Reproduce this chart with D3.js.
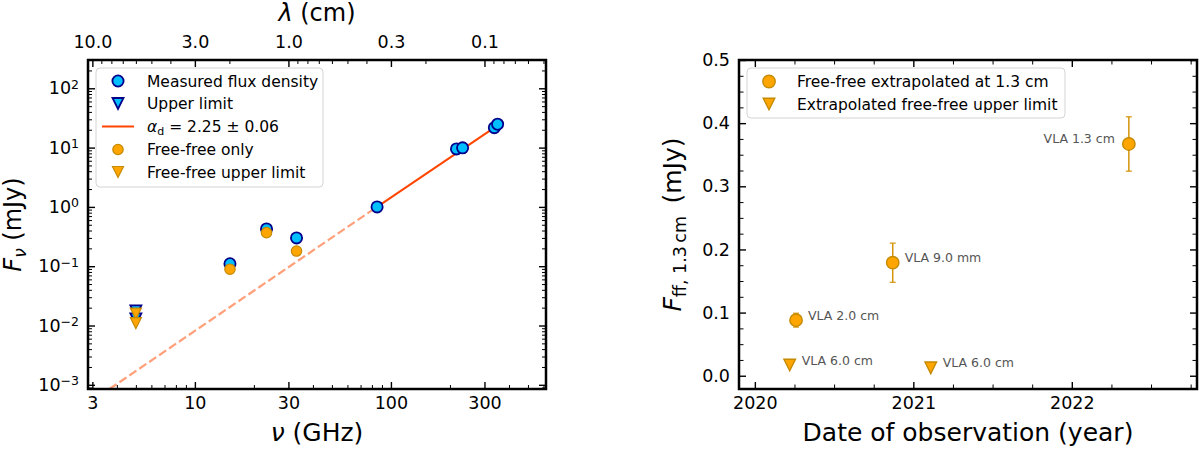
<!DOCTYPE html>
<html>
<head>
<meta charset="utf-8">
<script src="https://cdn.jsdelivr.net/npm/d3@7"></script>
<style>
  body { margin: 0; background: #fff; }
  svg text { font-family: "DejaVu Sans", sans-serif; fill: #000; }
</style>
</head>
<body>
<svg id="chart" width="1200" height="451"></svg>
<script>
// ---- left panel: spectrum ----
const measuredNu = [15.1, 23.2, 33.0, 85, 216, 232, 337, 350];
const measuredFlux = [0.11, 0.425, 0.30, 1.0, 9.5, 9.9, 21.7, 24.8];
const upperNu = [5.0, 5.0];
const upperFlux = [0.0176, 0.0129];
const freeNu = [15.1, 23.2, 33.0];
const freeFlux = [0.089, 0.368, 0.18];
const freeUpperNu = [5.0, 5.0];
const freeUpperFlux = [0.0159, 0.011];
// fit line vertices: dashed part = first two, solid part = last two
const fitNu = [3.67, 85, 340];
const fitFlux = [0.00085, 1.0, 22.2];

const nuMajor = [3, 10, 30, 100, 300];
const nuMinor = [4, 5, 6, 7, 8, 9, 20, 40, 50, 60, 70, 80, 90, 200, 400, 500, 600];
const lamMajor = [10, 3, 1, 0.3, 0.1];
const lamLabels = ['10.0', '3.0', '1.0', '0.3', '0.1'];
const lamMinor = [9, 8, 7, 6, 5, 4, 2, 0.9, 0.8, 0.7, 0.6, 0.5, 0.4, 0.2, 0.09, 0.08, 0.07, 0.06, 0.05];
const fluxMajor = [1e-3, 1e-2, 1e-1, 1, 10, 100];
const fluxExp = ['\u22123', '\u22122', '\u22121', '0', '1', '2'];

// ---- right panel: free-free at 1.3 cm vs date ----
const ffDate = [2020.26, 2020.87, 2022.36];
const ffFlux = [0.088, 0.179, 0.367];
const ffErr = [0.011, 0.031, 0.043];
const ffLabel = ['VLA 2.0 cm', 'VLA 9.0 mm', 'VLA 1.3 cm'];
const ulDate = [2020.22, 2021.11];
const ulFlux = [0.017, 0.0126];
const ulLabel = ['VLA 6.0 cm', 'VLA 6.0 cm'];
const yearMajor = [2020, 2021, 2022];
const ffMajor = [0, 0.1, 0.2, 0.3, 0.4, 0.5];

const BLUE = '#00bfff', BLUE_EDGE = '#00008b';
const ORANGE = '#ffa500', ORANGE_EDGE = '#c48a00';
const FIT = '#ff4500', FIT_DASH = '#ffa07a';
const ERR = '#d4940a';

const svg = d3.select('#chart');

const L = { x0: 88, x1: 546, y0: 60, y1: 389 };
const R = { x0: 739, x1: 1197, y0: 60, y1: 389 };

const xNu = d3.scaleLog().domain([2.85, 618]).range([L.x0, L.x1]);
const xLam = d3.scaleLog().domain([30 / 2.85, 30 / 618]).range([L.x0, L.x1]);
const yF = d3.scaleLog().domain([8.5e-4, 300]).range([L.y1, L.y0]);

const xDate = d3.scaleLinear().domain([2019.9, 2022.79]).range([R.x0, R.x1]);
const yFF = d3.scaleLinear().domain([-0.021, 0.5]).range([R.y1, R.y0]);

const fluxMinor = [];
for (let k = -4; k <= 2; k++) {
  for (let m = 2; m <= 9; m++) {
    const v = m * Math.pow(10, k);
    if (v >= 8.5e-4 && v <= 300) fluxMinor.push(v);
  }
}
const yearMinor = d3.range(2020, 2022.8, 0.25).filter(v => !yearMajor.includes(v));
const ffMinor = d3.range(0, 0.5, 0.025).filter((v, i) => i % 4 !== 0);

const tri = s => `M${-s},${-s}L${s},${-s}L0,${s}Z`;

// draw an axis with inward ticks, no domain line
const addAxis = (g, gen, pos, values, size, pad, fmt, width) => {
  const a = g.append('g')
    .attr('transform', pos)
    .call(gen.tickValues(values).tickSize(-size).tickPadding(pad).tickFormat(fmt));
  a.select('.domain').remove();
  a.selectAll('.tick line').attr('stroke', '#000').attr('stroke-width', width);
  a.selectAll('.tick text').attr('font-size', '17.5px').attr('font-family', 'DejaVu Sans').attr('fill', '#000');
  a.attr('font-family', null).attr('font-size', null);
  return a;
};

// ================= LEFT PANEL =================
const gL = svg.append('g');
svg.append('clipPath').attr('id', 'clipL')
  .append('rect').attr('x', L.x0).attr('y', L.y0).attr('width', L.x1 - L.x0).attr('height', L.y1 - L.y0);

const line = d3.line().x(d => xNu(d[0])).y(d => yF(d[1]));
const fitPts = fitNu.map((v, i) => [v, fitFlux[i]]);
gL.append('path').attr('clip-path', 'url(#clipL)')
  .attr('d', line(fitPts.slice(0, 2)))
  .attr('fill', 'none').attr('stroke', FIT_DASH).attr('stroke-width', 2.2)
  .attr('stroke-dasharray', '8.5,3.5');
gL.append('path')
  .attr('d', line(fitPts.slice(1, 3)))
  .attr('fill', 'none').attr('stroke', FIT).attr('stroke-width', 2);

gL.selectAll('.meas').data(measuredNu).enter().append('circle')
  .attr('cx', d => xNu(d)).attr('cy', (d, i) => yF(measuredFlux[i]))
  .attr('r', 5.6).attr('fill', BLUE).attr('stroke', BLUE_EDGE).attr('stroke-width', 1.8);
gL.selectAll('.ul').data(upperNu).enter().append('path')
  .attr('d', tri(5.5))
  .attr('transform', (d, i) => `translate(${xNu(d)},${yF(upperFlux[i])})`)
  .attr('fill', BLUE).attr('stroke', BLUE_EDGE).attr('stroke-width', 1.8);
gL.selectAll('.ff').data(freeNu).enter().append('circle')
  .attr('cx', d => xNu(d)).attr('cy', (d, i) => yF(freeFlux[i]))
  .attr('r', 5.2).attr('fill', ORANGE).attr('stroke', ORANGE_EDGE).attr('stroke-width', 1.2);
gL.selectAll('.ffu').data(freeUpperNu).enter().append('path')
  .attr('d', tri(5.5))
  .attr('transform', (d, i) => `translate(${xNu(d)},${yF(freeUpperFlux[i])})`)
  .attr('fill', ORANGE).attr('stroke', ORANGE_EDGE).attr('stroke-width', 1.2);

// axes
addAxis(gL, d3.axisBottom(xNu), `translate(0,${L.y1})`, nuMajor, 7, 8, d3.format('d'), 1.4);
addAxis(gL, d3.axisBottom(xNu), `translate(0,${L.y1})`, nuMinor, 4, 8, () => '', 1);
addAxis(gL, d3.axisTop(xLam), `translate(0,${L.y0})`, lamMajor, 7, 12, (d, i) => lamLabels[i], 1.4);
addAxis(gL, d3.axisTop(xLam), `translate(0,${L.y0})`, lamMinor, 4, 12, () => '', 1);
const yAxL = addAxis(gL, d3.axisLeft(yF), `translate(${L.x0},0)`, fluxMajor, 7, 9, () => '', 1.4);
yAxL.selectAll('.tick text').each(function (d, i) {
  const t = d3.select(this);
  t.append('tspan').text('10');
  t.append('tspan').attr('dy', '-0.45em').attr('font-size', '12.5px').text(fluxExp[i]);
});
addAxis(gL, d3.axisLeft(yF), `translate(${L.x0},0)`, fluxMinor, 4, 9, () => '', 1);
addAxis(gL, d3.axisRight(yF), `translate(${L.x1},0)`, fluxMajor, 7, 9, () => '', 1.4);
addAxis(gL, d3.axisRight(yF), `translate(${L.x1},0)`, fluxMinor, 4, 9, () => '', 1);

gL.append('rect').attr('x', L.x0).attr('y', L.y0)
  .attr('width', L.x1 - L.x0).attr('height', L.y1 - L.y0)
  .attr('fill', 'none').attr('stroke', '#000').attr('stroke-width', 2.5);

// axis labels
const nuLab = gL.append('text').attr('x', (L.x0 + L.x1) / 2).attr('y', 441)
  .attr('text-anchor', 'middle').attr('font-size', '25px');
nuLab.append('tspan').attr('font-style', 'italic').text('\u03bd');
nuLab.append('tspan').text(' (GHz)');

const lamLab = gL.append('text').attr('x', (L.x0 + L.x1) / 2).attr('y', 21)
  .attr('text-anchor', 'middle').attr('font-size', '24px');
lamLab.append('tspan').attr('font-style', 'italic').text('\u03bb');
lamLab.append('tspan').text(' (cm)');

const fLab = gL.append('text')
  .attr('transform', `translate(21,${(L.y0 + L.y1) / 2}) rotate(-90)`)
  .attr('text-anchor', 'middle').attr('font-size', '24px');
fLab.append('tspan').attr('font-style', 'italic').text('F');
fLab.append('tspan').attr('font-style', 'italic').attr('font-size', '17px').attr('dy', '5').text('\u03bd');
fLab.append('tspan').attr('dy', '-5').text(' (mJy)');

// legend
const legL = gL.append('g');
legL.append('rect').attr('x', 96).attr('y', 68).attr('width', 227).attr('height', 119)
  .attr('rx', 4).attr('fill', '#fff').attr('fill-opacity', 0.8)
  .attr('stroke', '#d4d4d4').attr('stroke-width', 1);
const legRows = [81, 103.5, 126.5, 149.5, 172];
legL.append('circle').attr('cx', 118).attr('cy', legRows[0]).attr('r', 5.6)
  .attr('fill', BLUE).attr('stroke', BLUE_EDGE).attr('stroke-width', 1.8);
legL.append('path').attr('d', tri(5.5)).attr('transform', `translate(118,${legRows[1]})`)
  .attr('fill', BLUE).attr('stroke', BLUE_EDGE).attr('stroke-width', 1.8);
legL.append('line').attr('x1', 102).attr('x2', 134).attr('y1', legRows[2]).attr('y2', legRows[2])
  .attr('stroke', FIT).attr('stroke-width', 2);
legL.append('circle').attr('cx', 118).attr('cy', legRows[3]).attr('r', 5.2)
  .attr('fill', ORANGE).attr('stroke', ORANGE_EDGE).attr('stroke-width', 1.2);
legL.append('path').attr('d', tri(5.5)).attr('transform', `translate(118,${legRows[4]})`)
  .attr('fill', ORANGE).attr('stroke', ORANGE_EDGE).attr('stroke-width', 1.2);
const legTexts = ['Measured flux density', 'Upper limit', null, 'Free-free only', 'Free-free upper limit'];
legTexts.forEach((s, i) => {
  const t = legL.append('text').attr('x', 147).attr('y', legRows[i] + 5.5).attr('font-size', '15.5px');
  if (s) {
    t.text(s);
  } else {
    t.append('tspan').attr('font-style', 'italic').text('\u03b1');
    t.append('tspan').attr('font-size', '11px').attr('dy', '3').text('d');
    t.append('tspan').attr('dy', '-3').text(' = 2.25 \u00b1 0.06');
  }
});

// ================= RIGHT PANEL =================
const gR = svg.append('g');

// error bars
ffDate.forEach((d, i) => {
  const x = xDate(d);
  const y0 = yFF(ffFlux[i] - ffErr[i]), y1 = yFF(ffFlux[i] + ffErr[i]);
  gR.append('line').attr('x1', x).attr('x2', x).attr('y1', y0).attr('y2', y1)
    .attr('stroke', ERR).attr('stroke-width', 1.5);
  [y0, y1].forEach(yy => gR.append('line').attr('x1', x - 3).attr('x2', x + 3)
    .attr('y1', yy).attr('y2', yy).attr('stroke', ERR).attr('stroke-width', 1.2));
});
gR.selectAll('.ffc').data(ffDate).enter().append('circle')
  .attr('cx', d => xDate(d)).attr('cy', (d, i) => yFF(ffFlux[i]))
  .attr('r', 6.2).attr('fill', ORANGE).attr('stroke', ORANGE_EDGE).attr('stroke-width', 1.4);
gR.selectAll('.ult').data(ulDate).enter().append('path')
  .attr('d', tri(5.8))
  .attr('transform', (d, i) => `translate(${xDate(d)},${yFF(ulFlux[i])})`)
  .attr('fill', ORANGE).attr('stroke', ORANGE_EDGE).attr('stroke-width', 1.4);

// annotations
ffDate.forEach((d, i) => {
  const right = i === 2;
  gR.append('text')
    .attr('x', xDate(d) + (right ? -14 : 12))
    .attr('y', yFF(ffFlux[i]) - 0.5)
    .attr('text-anchor', right ? 'end' : 'start')
    .attr('font-size', '12.5px').style('fill', '#555')
    .text(ffLabel[i]);
});
ulDate.forEach((d, i) => {
  gR.append('text')
    .attr('x', xDate(d) + 12)
    .attr('y', yFF(ulFlux[i]) - 0.5)
    .attr('font-size', '12.5px').style('fill', '#555')
    .text(ulLabel[i]);
});

addAxis(gR, d3.axisBottom(xDate), `translate(0,${R.y1})`, yearMajor, 7, 8, d3.format('d'), 1.4);
addAxis(gR, d3.axisBottom(xDate), `translate(0,${R.y1})`, yearMinor, 4.5, 8, () => '', 1);
addAxis(gR, d3.axisTop(xDate), `translate(0,${R.y0})`, yearMajor, 7, 8, () => '', 1.4);
addAxis(gR, d3.axisTop(xDate), `translate(0,${R.y0})`, yearMinor, 4.5, 8, () => '', 1);
addAxis(gR, d3.axisLeft(yFF), `translate(${R.x0},0)`, ffMajor, 7, 9, d3.format('.1f'), 1.4);
addAxis(gR, d3.axisLeft(yFF), `translate(${R.x0},0)`, ffMinor, 4.5, 9, () => '', 1);
addAxis(gR, d3.axisRight(yFF), `translate(${R.x1},0)`, ffMajor, 7, 9, () => '', 1.4);
addAxis(gR, d3.axisRight(yFF), `translate(${R.x1},0)`, ffMinor, 4.5, 9, () => '', 1);

gR.append('rect').attr('x', R.x0).attr('y', R.y0)
  .attr('width', R.x1 - R.x0).attr('height', R.y1 - R.y0)
  .attr('fill', 'none').attr('stroke', '#000').attr('stroke-width', 2.5);

gR.append('text').attr('x', (R.x0 + R.x1) / 2).attr('y', 441)
  .attr('text-anchor', 'middle').attr('font-size', '25px')
  .text('Date of observation (year)');

const ffLab = gR.append('text')
  .attr('transform', `translate(681,${(R.y0 + R.y1) / 2}) rotate(-90)`)
  .attr('text-anchor', 'middle').attr('font-size', '25px');
ffLab.append('tspan').attr('font-style', 'italic').text('F');
ffLab.append('tspan').attr('font-size', '17.5px').attr('dy', '5').text('ff, 1.3\u2009cm');
ffLab.append('tspan').attr('dy', '-5').text('\u2002(mJy)');

// legend
const legR = gR.append('g');
legR.append('rect').attr('x', 747).attr('y', 68).attr('width', 318).attr('height', 50)
  .attr('rx', 4).attr('fill', '#fff').attr('fill-opacity', 0.8)
  .attr('stroke', '#d4d4d4').attr('stroke-width', 1);
legR.append('circle').attr('cx', 769).attr('cy', 81.5).attr('r', 6.2)
  .attr('fill', ORANGE).attr('stroke', ORANGE_EDGE).attr('stroke-width', 1.4);
legR.append('path').attr('d', tri(5.8)).attr('transform', 'translate(769,104)')
  .attr('fill', ORANGE).attr('stroke', ORANGE_EDGE).attr('stroke-width', 1.4);
legR.append('text').attr('x', 797).attr('y', 87).attr('font-size', '15.5px')
  .text('Free-free extrapolated at 1.3 cm');
legR.append('text').attr('x', 797).attr('y', 109.5).attr('font-size', '15.5px')
  .text('Extrapolated free-free upper limit');
</script>
</body>
</html>
